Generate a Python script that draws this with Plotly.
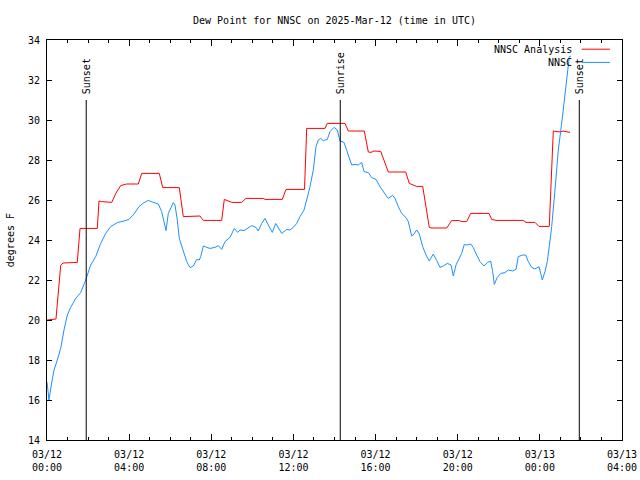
import pandas as pd
import plotly.graph_objects as go

# ---- data (hours after 2025-03-12 00:00 UTC, values in degrees F) ----
analysis_hours = [0.0, 0.438, 0.667, 0.779, 1.475, 1.607, 2.449, 2.532, 2.664, 3.151, 3.36, 3.589,
                  3.881, 4.446, 4.611, 5.468, 5.634, 6.442, 6.637, 7.45, 7.611, 8.507, 8.634, 8.994,
                  9.481, 9.69, 10.533, 10.616, 11.458, 11.638, 12.539, 12.646, 13.537, 13.649, 14.511,
                  14.672, 15.451, 15.646, 15.777, 15.923, 16.25, 16.62, 17.467, 17.642, 18.003, 18.295,
                  18.616, 18.747, 19.463, 19.706, 20.077, 20.208, 20.437, 20.632, 21.523, 21.654, 21.864,
                  23.193, 23.325, 23.763, 23.958, 24.459, 24.654, 24.981, 25.127, 25.468]
analysis_vals = [20.0, 20.05, 22.73, 22.85, 22.88, 24.58, 24.58, 25.95, 25.92, 25.88, 26.35, 26.72,
                 26.8, 26.8, 27.33, 27.33, 26.62, 26.62, 25.17, 25.2, 24.98, 24.98, 26.03, 25.88,
                 25.88, 26.08, 26.08, 26.03, 26.03, 26.53, 26.53, 29.58, 29.58, 29.83, 29.83,
                 29.45, 29.45, 28.4, 28.38, 28.45, 28.43, 27.4, 27.4, 26.83, 26.68, 26.68,
                 24.63, 24.6, 24.6, 24.97, 24.97, 24.92, 24.92, 25.33, 25.33, 25.03, 24.98,
                 24.98, 24.88, 24.88, 24.68, 24.68, 29.45, 29.4, 29.45, 29.38]

obs_hours = [0.0, 0.097, 0.209, 0.341, 0.502, 0.667, 0.828, 0.989, 1.154, 1.398, 1.641, 1.885,
             2.128, 2.371, 2.615, 2.858, 3.102, 3.423, 3.75, 3.993, 4.236, 4.48, 4.723, 4.933,
             5.176, 5.42, 5.585, 5.697, 5.795, 5.907, 6.072, 6.15, 6.233, 6.345, 6.442, 6.559,
             6.671, 6.803, 6.963, 7.124, 7.29, 7.416, 7.485, 7.611, 7.777, 7.937, 8.181, 8.342,
             8.507, 8.668, 8.911, 9.121, 9.286, 9.398, 9.593, 9.802, 9.968, 10.177, 10.289,
             10.455, 10.615, 10.776, 10.971, 11.137, 11.263, 11.429, 11.672, 11.833, 11.994,
             12.159, 12.32, 12.515, 12.646, 12.807, 12.968, 13.099, 13.211, 13.328, 13.455,
             13.649, 13.781, 13.976, 14.136, 14.268, 14.463, 14.623, 14.838, 14.998, 15.159,
             15.325, 15.437, 15.646, 15.812, 16.021, 16.216, 16.459, 16.62, 16.834, 16.946,
             17.107, 17.272, 17.482, 17.594, 17.759, 17.871, 18.003, 18.129, 18.295, 18.456,
             18.616, 18.811, 18.977, 19.137, 19.298, 19.493, 19.673, 19.785, 19.917, 20.077,
             20.194, 20.321, 20.437, 20.632, 20.759, 20.924, 21.085, 21.28, 21.44, 21.606,
             21.703, 21.781, 21.927, 22.093, 22.302, 22.463, 22.677, 22.838, 22.95, 23.164,
             23.31, 23.437, 23.603, 23.763, 23.958, 24.041, 24.119, 24.25, 24.362, 24.459,
             24.576, 24.737, 24.898, 25.063, 25.191, 25.307, 25.434, 25.517]
obs_vals = [16.9, 16.0, 16.75, 17.5, 18.0, 18.58, 19.5, 20.25, 20.63, 21.08, 21.37, 22.0,
            22.75, 23.17, 23.83, 24.33, 24.67, 24.87, 24.95, 25.03, 25.3, 25.67, 25.87, 25.98,
            25.88, 25.8, 25.42, 24.92, 24.47, 25.33, 25.75, 25.87, 25.75, 25.0, 24.08, 23.67,
            23.25, 22.92, 22.62, 22.7, 23.03, 23.0, 23.17, 23.7, 23.63, 23.58, 23.63, 23.72,
            23.53, 23.92, 24.13, 24.58, 24.38, 24.5, 24.47, 24.63, 24.72, 24.63, 24.45,
            24.83, 25.08, 24.75, 24.38, 24.83, 24.58, 24.33, 24.53, 24.5, 24.63,
            24.83, 25.17, 25.5, 26.0, 26.67, 27.5, 28.67, 29.0, 29.08, 28.97,
            29.03, 29.42, 29.63, 29.5, 28.95, 28.88, 28.42, 27.75, 27.78, 27.75,
            27.88, 27.42, 27.37, 27.12, 27.03, 26.67, 26.3, 26.08, 26.23, 26.08,
            25.67, 25.33, 25.12, 24.92, 24.2, 24.3, 24.5, 24.3, 23.67, 23.25,
            22.95, 23.3, 22.97, 22.63, 22.7, 22.83, 22.75, 22.2, 22.75, 23.08,
            23.33, 23.78, 23.75, 23.8, 23.62, 23.25, 22.92, 22.7, 22.87, 22.95,
            22.42, 21.78, 22.13, 22.33, 22.37, 22.5, 22.45, 22.53, 23.17, 23.25,
            23.25, 22.92, 22.63, 22.55, 22.67, 22.33, 22.0, 22.42, 22.92, 23.67,
            24.67, 26.5, 28.5, 29.83, 31.0, 32.33, 33.17, 33.2]

event_names = ["Sunset", "Sunrise", "Sunset"]
event_hours = [1.91, 14.28, 25.92]
event_top = 31.0

tick_hours = [0, 4, 8, 12, 16, 20, 24, 28]
tick_labels = ["03/12<br>00:00", "03/12<br>04:00", "03/12<br>08:00", "03/12<br>12:00",
               "03/12<br>16:00", "03/12<br>20:00", "03/13<br>00:00", "03/13<br>04:00"]
y_ticks = [14, 16, 18, 20, 22, 24, 26, 28, 30, 32, 34]

series_names = ["NNSC Analysis", "NNSC"]
series_colors = ["#ff0000", "#1e90ff"]

base = pd.Timestamp("2025-03-12 00:00")
def to_time(hours):
    return [base + pd.Timedelta(hours=h) for h in hours]

FONT = "DejaVu Sans Mono"

fig = go.Figure()
fig.add_trace(go.Scatter(x=to_time(analysis_hours), y=analysis_vals, mode="lines",
                         name=series_names[0], line=dict(color=series_colors[0], width=1),
                         showlegend=False))
fig.add_trace(go.Scatter(x=to_time(obs_hours), y=obs_vals, mode="lines",
                         name=series_names[1], line=dict(color=series_colors[1], width=1),
                         showlegend=False))

for name, h in zip(event_names, event_hours):
    t = base + pd.Timedelta(hours=h)
    fig.add_shape(type="line", xref="x", yref="y", x0=t, x1=t, y0=y_ticks[0], y1=event_top,
                  line=dict(color="black", width=1))
    fig.add_annotation(x=t, y=event_top, xref="x", yref="y", text=name, showarrow=False,
                       textangle=-90, yanchor="bottom", xanchor="center", yshift=4,
                       font=dict(family=FONT, size=10, color="black"))

# manual gnuplot-style legend (text left of sample line)
legend_y = [0.977, 0.944]
for name, col, ly in zip(series_names, series_colors, legend_y):
    fig.add_annotation(x=0.9165, y=ly, xref="paper", yref="paper", text=name, showarrow=False,
                       xanchor="right", yanchor="middle",
                       font=dict(family=FONT, size=10, color="black"))
    fig.add_shape(type="line", xref="paper", yref="paper", x0=0.930, x1=0.979, y0=ly, y1=ly,
                  line=dict(color=col, width=1))

fig.add_annotation(x=-0.064, y=0.5, xref="paper", yref="paper", text="degrees F",
                   showarrow=False, textangle=-90, xanchor="center", yanchor="middle",
                   font=dict(family=FONT, size=10, color="black"))

fig.update_layout(
    width=640, height=480,
    margin=dict(l=47, r=18, t=40, b=40, autoexpand=False),
    paper_bgcolor="white", plot_bgcolor="white",
    title=dict(text="Dew Point for NNSC on 2025-Mar-12 (time in UTC)", x=0.5, xref="paper",
               xanchor="center", y=1 - 20 / 480, yref="container", yanchor="middle",
               font=dict(family=FONT, size=10, color="black")),
    font=dict(family=FONT, size=10, color="black"),
)
fig.update_xaxes(
    range=[base, base + pd.Timedelta(hours=28)],
    tickvals=to_time(tick_hours), ticktext=tick_labels,
    ticks="inside", ticklen=6, tickcolor="black", tickwidth=1,
    minor=dict(dtick=3600000, ticks="inside", ticklen=3, tickcolor="black", tickwidth=1),
    showline=True, linecolor="black", linewidth=1, mirror="ticks",
    showgrid=False, zeroline=False, ticklabelstandoff=5, automargin=False,
    tickfont=dict(family=FONT, size=10, color="black"),
)
fig.update_yaxes(
    range=[14, 34], tickvals=y_ticks,
    ticks="inside", ticklen=5, tickcolor="black", tickwidth=1,
    showline=True, linecolor="black", linewidth=1, mirror="ticks",
    showgrid=False, zeroline=False, ticklabelstandoff=4, automargin=False,
    tickfont=dict(family=FONT, size=10, color="black"),
)

fig.write_html("out.html", config={"displayModeBar": False},
               post_script="document.body.style.margin='0';")
